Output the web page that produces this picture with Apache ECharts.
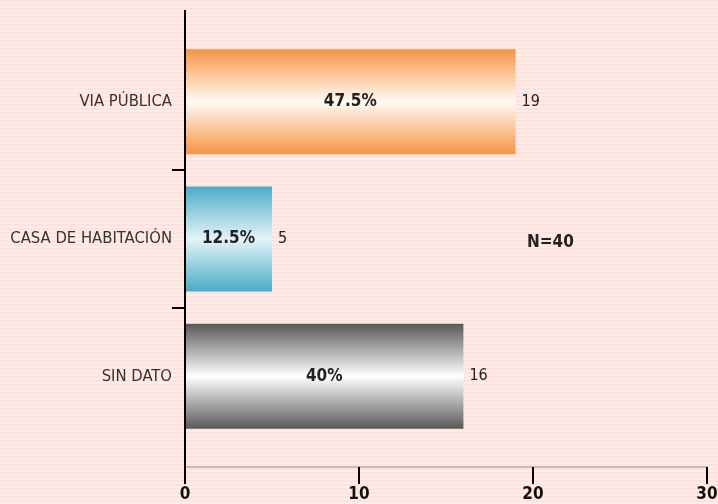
<!DOCTYPE html>
<html>
<head>
<meta charset="utf-8">
<script src="https://cdn.jsdelivr.net/npm/echarts@6/dist/echarts.min.js"></script>
<style>
  html, body { margin: 0; padding: 0; }
  #chart { width: 718px; height: 504px; }
</style>
</head>
<body>
<div id="chart"></div>
<script>
// datos
const categories = ['SIN DATO', 'CASA DE HABITACIÓN', 'VIA PÚBLICA']
const counts = [16, 5, 19]
const percents = ['40%', '12.5%', '47.5%']
const xTicks = [0, 10, 20, 30]
const totalText = 'N=40'

const barColors = [
  ['#585858', '#ffffff'],
  ['#4aacc6', '#e4f3f8'],
  ['#f79444', '#fffaf5']
]

function stripes() {
  const c = document.createElement('canvas')
  c.width = 4
  c.height = 4
  const ctx = c.getContext('2d')
  ctx.fillStyle = '#fde2dd'
  ctx.fillRect(0, 0, 4, 4)
  ctx.fillStyle = '#feece8'
  ctx.fillRect(0, 2, 4, 2)
  return c
}

function grad(pair) {
  return new echarts.graphic.LinearGradient(0, 0, 0, 1, [
    { offset: 0, color: pair[0] },
    { offset: 0.5, color: pair[1] },
    { offset: 1, color: pair[0] }
  ])
}

const font = '"DejaVu Sans Condensed", "DejaVu Sans", sans-serif'
const chart = echarts.init(document.getElementById('chart'))

const gridLeft = 185
const axisY = 467

chart.setOption({
  backgroundColor: { image: stripes(), repeat: 'repeat' },
  animation: false,
  grid: { left: gridLeft, right: 11, top: 33, bottom: 59, outerBoundsMode: 'none', containLabel: false },
  xAxis: {
    type: 'value',
    min: 0,
    max: xTicks[xTicks.length - 1],
    interval: 10,
    offset: 22,
    axisLine: { show: true, lineStyle: { color: '#bdbdbd', width: 2 } },
    axisTick: { show: false },
    axisLabel: { fontFamily: font, fontWeight: 'bold', fontSize: 17, color: '#111', margin: 19,
      formatter: v => xTicks.includes(v) ? String(v) : '' },
    splitLine: { show: false }
  },
  yAxis: {
    type: 'category',
    data: categories,
    axisLine: { show: true, lineStyle: { color: '#000', width: 2 } },
    axisTick: { show: false },
    axisLabel: { fontFamily: font, fontSize: 16.5, color: '#333', margin: 13 }
  },
  series: [
    {
      type: 'bar',
      barWidth: 105,
      data: counts.map((v, i) => ({ value: v, itemStyle: { color: grad(barColors[i]) } })),
      label: {
        show: true,
        position: 'right',
        distance: 6,
        fontFamily: font,
        fontSize: 16,
        color: '#222',
        formatter: p => String(p.value)
      }
    },
    {
      type: 'bar',
      barWidth: 105,
      barGap: '-100%',
      itemStyle: { color: 'transparent' },
      data: counts,
      label: {
        show: true,
        position: 'inside',
        fontFamily: font,
        fontSize: 17,
        fontWeight: 'bold',
        color: '#222',
        formatter: p => percents[p.dataIndex]
      },
      z: 3
    }
  ]
})

// ejes: marcas dibujadas a partir de las escalas
const c0 = chart.convertToPixel({ yAxisIndex: 0 }, 0)
const c1 = chart.convertToPixel({ yAxisIndex: 0 }, 1)
const band = c0 - c1
const deco = [
  { type: 'line', shape: { x1: gridLeft, y1: 10, x2: gridLeft, y2: axisY }, style: { stroke: '#000', lineWidth: 2 }, z: 10 },
  { type: 'text', left: 527, top: 234,
    style: { text: totalText, font: 'bold 17px "DejaVu Sans Condensed", sans-serif', fill: '#222' } }
]
for (let i = 0; i < categories.length - 1; i++) {
  const y = Math.round(chart.convertToPixel({ yAxisIndex: 0 }, i) - band / 2)
  deco.push({ type: 'line', shape: { x1: gridLeft - 13, y1: y, x2: gridLeft, y2: y }, style: { stroke: '#000', lineWidth: 2 }, z: 10 })
}
xTicks.forEach(v => {
  const x = Math.round(chart.convertToPixel({ xAxisIndex: 0 }, v))
  deco.push({ type: 'line', shape: { x1: x, y1: axisY, x2: x, y2: axisY + 17 }, style: { stroke: '#000', lineWidth: 2 }, z: 10 })
})
chart.setOption({ graphic: deco })
</script>
</body>
</html>
